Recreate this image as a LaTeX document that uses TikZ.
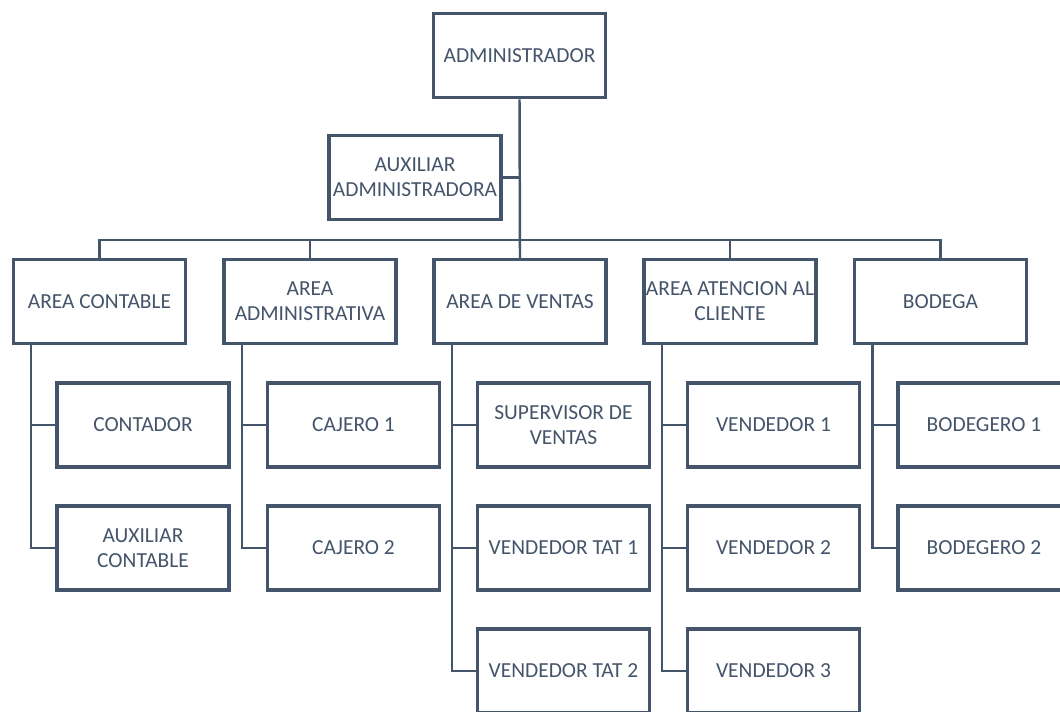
\documentclass[tikz,border=0pt]{standalone}
\usepackage{fontspec}
\setmainfont{Carlito}
\definecolor{slate}{HTML}{44546A}
\begin{document}
\begin{tikzpicture}[x=0.02cm,y=-0.02cm,
  box/.style={draw=slate,line width=2pt,fill=white,text=slate,minimum width=3.44cm,minimum height=1.68cm,align=center,inner sep=0pt,font=\fontsize{12.2}{14.2}\selectfont},
  link/.style={draw=slate,line width=1.4pt}]
\useasboundingbox (0,0) rectangle (1060,711);
\clip (0,0) rectangle (1060,711);
\fill[white] (0,0) rectangle (1060,711);
\node[box] (adm) at (519.5,55.5) {ADMINISTRADOR};
\node[box] (aux) at (415,177.5) {AUXILIAR\\ADMINISTRADORA};
\node[box] (ac) at (99.5,301.5) {AREA CONTABLE};
\node[box] (aa) at (310,301.5) {AREA\\ADMINISTRATIVA};
\node[box] (av) at (520,301.5) {AREA DE VENTAS};
\node[box] (at) at (730,301.5) {AREA ATENCION AL\\CLIENTE};
\node[box] (ab) at (940.5,301.5) {BODEGA};
\node[box] (ac1) at (143,425) {CONTADOR};
\node[box] (ac2) at (143,548) {AUXILIAR\\CONTABLE};
\node[box] (aa1) at (353.5,425) {CAJERO 1};
\node[box] (aa2) at (353.5,548) {CAJERO 2};
\node[box] (av1) at (563.5,425) {SUPERVISOR DE\\VENTAS};
\node[box] (av2) at (563.5,548) {VENDEDOR TAT 1};
\node[box] (av3) at (563.5,671) {VENDEDOR TAT 2};
\node[box] (at1) at (773.5,425) {VENDEDOR 1};
\node[box] (at2) at (773.5,548) {VENDEDOR 2};
\node[box] (at3) at (773.5,671) {VENDEDOR 3};
\node[box] (ab1) at (984,425) {BODEGERO 1};
\node[box] (ab2) at (984,548) {BODEGERO 2};
\coordinate (bus) at (520,240);
% trunk and bus
\draw[link] (adm.south) -- (av.north);
\draw[link] (aux.east) -- (aux.east -| adm.south);
\draw[link] (ac.north) |- (bus) -| (ab.north);
\draw[link] (aa.north) -- (aa.north |- bus);
\draw[link] (at.north) -- (at.north |- bus);
% sub branches
\foreach \a/\last/\kids in {ac/ac2/{ac1,ac2},aa/aa2/{aa1,aa2},av/av3/{av1,av2,av3},at/at3/{at1,at2,at3},ab/ab2/{ab1,ab2}}{
  \draw[link] ([xshift=-0.48cm]\last.west |- \a.south) |- (\last.west);
  \foreach \k in \kids { \draw[link] ([xshift=-0.48cm]\k.west) -- (\k.west); }
}
\end{tikzpicture}
\end{document}
